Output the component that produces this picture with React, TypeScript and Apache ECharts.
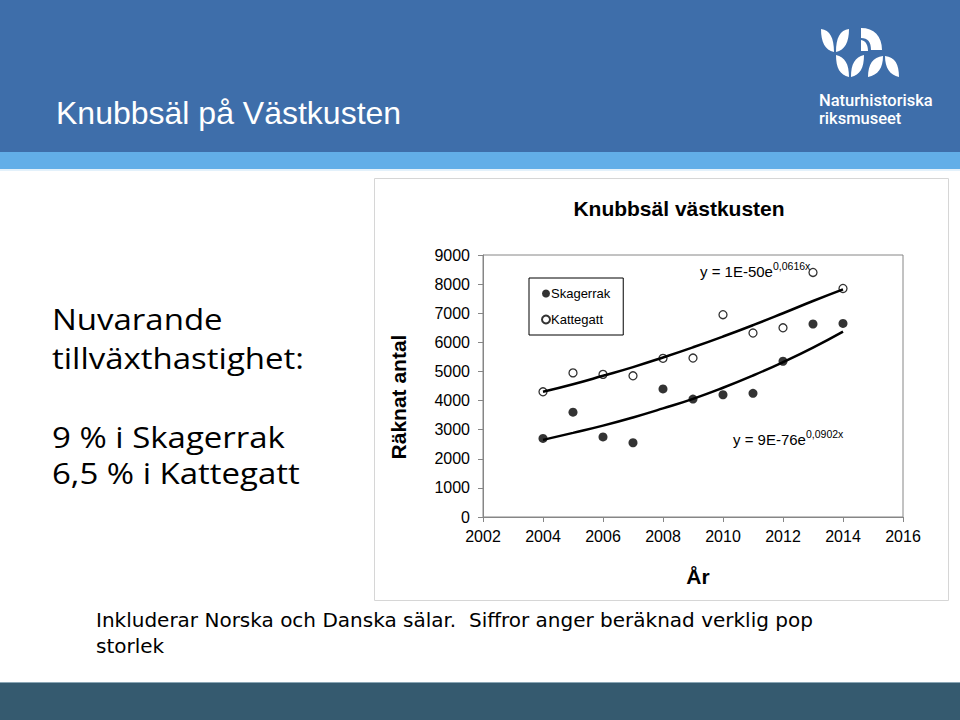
import React, { useEffect, useRef } from "react";
import * as echarts from "echarts";

const years = [2004, 2005, 2006, 2007, 2008, 2009, 2010, 2011, 2012, 2013, 2014];
const skagerrak = [2700, 3600, 2750, 2550, 4400, 4050, 4200, 4250, 5350, 6630, 6650];
const kattegatt = [4300, 4950, 4900, 4850, 5450, 5460, 6950, 6320, 6500, 8400, 7850];
// trend curves at each year
const skagerrakTrend = [2650, 2890, 3140, 3420, 3730, 4060, 4440, 4860, 5320, 5820, 6370];
const kattegattTrend = [4300, 4560, 4850, 5150, 5480, 5830, 6200, 6590, 7000, 7420, 7820];
const yTicks = [0, 1000, 2000, 3000, 4000, 5000, 6000, 7000, 8000, 9000];
const xTicks = [2002, 2004, 2006, 2008, 2010, 2012, 2014, 2016];

const logoPath =
  "M821 29 C830 30 834 38 834 52 C825 50 821 42 821 29 Z " +
  "M849 29 C840 30 836 38 836 52 C845 50 849 42 849 29 Z " +
  "M861 28 C874 28 882 36 882 50 L871 50 C871 42 868 38 861 38 Z " +
  "M861 40 C866 41 868 45 868 51 L861 51 Z " +
  "M836 55 C845 57 849 64 849 77 C840 75 836 68 836 55 Z " +
  "M864 55 C855 57 851 64 851 77 C860 75 864 68 864 55 Z " +
  "M868 77 C868 64 873 57 883 56 C883 68 878 75 868 77 Z " +
  "M885 56 C895 57 899 64 899 77 C890 75 885 68 885 56 Z";

echarts.graphic.registerShape("nrmlogo", (echarts.graphic as any).extendPath(logoPath, {}));

const F = "Arial, 'Liberation Sans', sans-serif";
const leftFont = "30px 'Open Sans'";

export default function App() {
  const ref = useRef<HTMLDivElement>(null);
  useEffect(() => {
    if (!ref.current) return;
    const chart = echarts.init(ref.current, null, { renderer: "svg" });
    const pts = (v: number[]) => years.map((y, i) => [y, v[i]]);
    const leftText = (text: string, y: number) => ({
      type: "text",
      x: 52,
      y,
      scaleX: 1.1,
      style: { text, fill: "#000", font: leftFont, lineHeight: 32, textVerticalAlign: "middle" },
    });
    chart.setOption({
      animation: false,
      backgroundColor: "#ffffff",
      title: {
        text: "Knubbsäl västkusten",
        left: 674,
        top: 193,
        textAlign: "center",
        textStyle: { fontFamily: F, fontWeight: "bold", fontSize: 21, color: "#000" },
      },
      legend: {
        orient: "vertical",
        left: 529,
        top: 278,
        data: ["Skagerrak", "Kattegatt"],
        borderColor: "#000",
        borderWidth: 1,
        padding: [9, 13, 9, 12],
        itemGap: 13,
        itemWidth: 8,
        itemHeight: 8,
        textStyle: { fontFamily: F, fontSize: 13, color: "#000", padding: [0, 0, 0, -4] },
      },
      grid: { left: 483, top: 255, width: 420, height: 262, show: true, borderColor: "#868686", borderWidth: 1, backgroundColor: "transparent" },
      xAxis: {
        type: "value",
        min: 2002,
        max: 2016,
        interval: 2,
        axisLine: { lineStyle: { color: "#868686" } },
        axisTick: { show: true, length: 5, lineStyle: { color: "#868686" } },
        splitLine: { show: false },
        axisLabel: {
          fontFamily: F,
          fontSize: 16,
          color: "#000",
          margin: 11,
          formatter: (v: number) => (xTicks.includes(v) ? String(v) : ""),
        },
      },
      yAxis: {
        type: "value",
        min: 0,
        max: 9000,
        interval: 1000,
        axisLine: { show: true, lineStyle: { color: "#868686" } },
        axisTick: { show: true, length: 5, lineStyle: { color: "#868686" } },
        splitLine: { show: false },
        axisLabel: {
          fontFamily: F,
          fontSize: 16,
          color: "#000",
          margin: 13,
          formatter: (v: number) => (yTicks.includes(v) ? String(v) : ""),
        },
      },
      series: [
        {
          name: "KattegattTrend",
          type: "line",
          data: pts(kattegattTrend),
          smooth: true,
          symbol: "none",
          lineStyle: { color: "#000", width: 2.5 },
          silent: true,
          z: 2,
        },
        {
          name: "SkagerrakTrend",
          type: "line",
          data: pts(skagerrakTrend),
          smooth: true,
          symbol: "none",
          lineStyle: { color: "#000", width: 2.5 },
          silent: true,
          z: 2,
        },
        {
          name: "Skagerrak",
          type: "scatter",
          data: pts(skagerrak),
          symbol: "circle",
          symbolSize: 9,
          itemStyle: { color: "#000" },
          z: 3,
        },
        {
          name: "Kattegatt",
          type: "scatter",
          data: pts(kattegatt),
          symbol: "circle",
          symbolSize: 8,
          itemStyle: { color: "rgba(255,255,255,0)", borderColor: "#000", borderWidth: 1.3 },
          z: 3,
        },
      ],
      graphic: [
        { type: "rect", z: -10, shape: { x: 0, y: 0, width: 960, height: 152 }, style: { fill: "#3e6eaa" } },
        { type: "rect", z: -10, shape: { x: 0, y: 152, width: 960, height: 17 }, style: { fill: "#62aee8" } },
        { type: "rect", z: -10, shape: { x: 0, y: 169, width: 960, height: 2 }, style: { fill: "#e3f1fb" } },
        { type: "rect", z: -10, shape: { x: 0, y: 682, width: 960, height: 38 }, style: { fill: "#355a6f" } },
        { type: "rect", z: -10, shape: { x: 0, y: 682, width: 960, height: 1 }, style: { fill: "#8aa6b5" } },
        { type: "rect", z: -9, shape: { x: 374.5, y: 178.5, width: 574, height: 422 }, style: { fill: "#fff", stroke: "#d6d6d6", lineWidth: 1 } },
        {
          type: "text",
          x: 56,
          y: 113,
          style: { text: "Knubbsäl på Västkusten", fill: "#fff", font: `32px ${F}`, textVerticalAlign: "middle" },
        },
        { type: "nrmlogo", x: 0, y: 0, style: { fill: "#fff" } },
        {
          type: "text",
          x: 819,
          y: 100,
          style: { text: "Naturhistoriska", fill: "#fff", font: "500 16.5px Roboto", textVerticalAlign: "middle" },
        },
        {
          type: "text",
          x: 819,
          y: 118,
          style: { text: "riksmuseet", fill: "#fff", font: "500 16.5px Roboto", textVerticalAlign: "middle" },
        },
        {
          type: "text",
          x: 398,
          y: 397,
          rotation: Math.PI / 2,
          style: { text: "Räknat antal", fill: "#000", font: `bold 21px ${F}`, textAlign: "center", textVerticalAlign: "middle" },
        },
        {
          type: "text",
          x: 698,
          y: 576,
          style: { text: "År", fill: "#000", font: `bold 21px ${F}`, textAlign: "center", textVerticalAlign: "middle" },
        },
        leftText("Nuvarande", 318),
        leftText("tillväxthastighet:", 357),
        leftText("9 % i Skagerrak", 436),
        leftText("6,5 % i Kattegatt", 472),
        {
          type: "text",
          x: 96,
          y: 620,
          style: {
            text: "Inkluderar Norska och Danska sälar.  Siffror anger beräknad verklig pop",
            fill: "#000",
            font: "20px 'DejaVu Sans'",
            textVerticalAlign: "middle",
          },
        },
        {
          type: "text",
          x: 96,
          y: 646,
          style: { text: "storlek", fill: "#000", font: "20px 'DejaVu Sans'", textVerticalAlign: "middle" },
        },
        {
          type: "text",
          x: 700,
          y: 271,
          style: {
            text: "{a|y = 1E-50e}{s|0,0616x}",
            textVerticalAlign: "middle",
            rich: {
              a: { fontFamily: F, fontSize: 15, color: "#000", lineHeight: 22 },
              s: { fontFamily: F, fontSize: 10.5, color: "#000", lineHeight: 22, padding: [0, 0, 10, 0] },
            },
          },
        },
        {
          type: "text",
          x: 733,
          y: 439,
          style: {
            text: "{a|y = 9E-76e}{s|0,0902x}",
            textVerticalAlign: "middle",
            rich: {
              a: { fontFamily: F, fontSize: 15, color: "#000", lineHeight: 22 },
              s: { fontFamily: F, fontSize: 10.5, color: "#000", lineHeight: 22, padding: [0, 0, 10, 0] },
            },
          },
        },
      ],
    });
    return () => chart.dispose();
  }, []);
  return <div ref={ref} style={{ position: "fixed", left: 0, top: 0, width: 960, height: 720 }} />;
}
